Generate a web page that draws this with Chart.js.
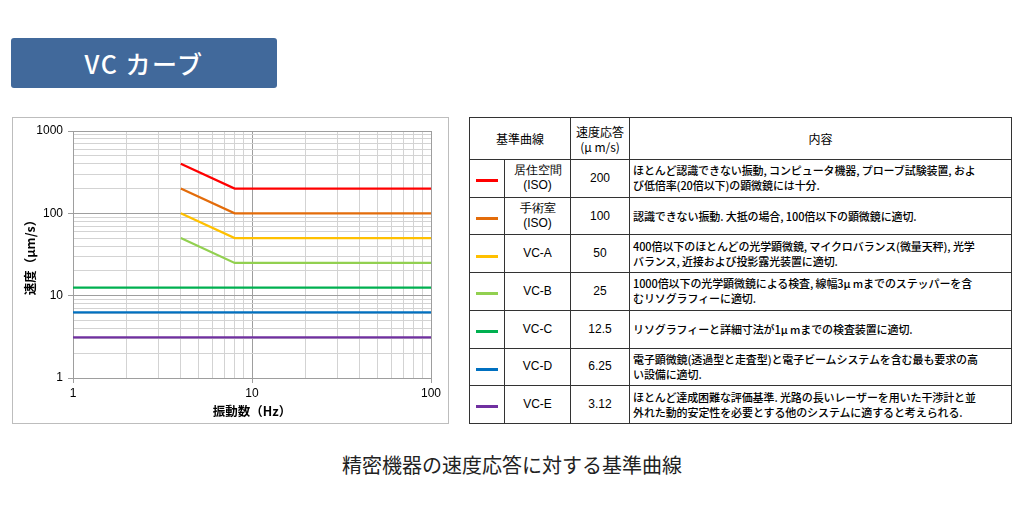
<!DOCTYPE html>
<html>
<head>
<meta charset="utf-8">
<script src="https://cdn.jsdelivr.net/npm/chart.js@4.4.0/dist/chart.umd.min.js"></script>
<style>
  html, body { margin: 0; padding: 0; background: #fff; }
  body { width: 1024px; height: 512px; position: relative; overflow: hidden;
         font-family: "Noto Sans CJK JP", "Liberation Sans", sans-serif; }
  #title { position: absolute; left: 11px; top: 38px; width: 266px; height: 50px;
           background: #41699b; border-radius: 3px; color: #fff; font-size: 25px;
           font-weight: 500; line-height: 50px; text-align: center; letter-spacing: 1.5px; }
  #chartBox { position: absolute; left: 12px; top: 117px; width: 435px; height: 305px;
              border: 1px solid #bdbdbd; }
  #vc { display: block; }
  #tbl { position: absolute; left: 469px; top: 117px; width: 543px; height: 307px;
         border-collapse: collapse; table-layout: fixed; font-size: 12px; color: #000; }
  #tbl td { border: 1px solid #333; padding: 0; text-align: center; vertical-align: middle;
            line-height: 15px; }
  #tbl td.txt { text-align: left; padding-left: 3px; white-space: nowrap; letter-spacing: -0.1px;
                font-size: 11px; font-weight: 500; }
  #tbl td.num { font-family: "Liberation Sans", sans-serif; font-size: 12px; }
  #tbl .sw { display: inline-block; width: 22px; height: 3px; vertical-align: middle; }
  #caption { position: absolute; left: 0; width: 1024px; top: 450px; text-align: center;
             font-size: 20px; color: #222; font-weight: 400; }
</style>
</head>
<body>
<div id="title">VC カーブ</div>
<div id="chartBox"><canvas id="vc" width="435" height="305"></canvas></div>
<table id="tbl"></table>
<div id="caption">精密機器の速度応答に対する基準曲線</div>
<script>
// 基準曲線のデータ
const curveNames = ['居住空間<br>(ISO)', '手術室<br>(ISO)', 'VC-A', 'VC-B', 'VC-C', 'VC-D', 'VC-E'];
const curveValues = ['200', '100', '50', '25', '12.5', '6.25', '3.12'];
const curveFreqs = [[4, 8, 100], [4, 8, 100], [4, 8, 100], [4, 8, 100], [1, 100], [1, 100], [1, 100]];
const curveSpeeds = [[400, 200, 200], [200, 100, 100], [100, 50, 50], [50, 25, 25], [12.5, 12.5], [6.25, 6.25], [3.12, 3.12]];
const curveNotes = [
  'ほとんど認識できない振動, コンピュータ機器, プローブ試験装置, およ<br>び低倍率(20倍以下)の顕微鏡には十分.',
  '認識できない振動. 大抵の場合, 100倍以下の顕微鏡に適切.',
  '400倍以下のほとんどの光学顕微鏡, マイクロバランス(微量天秤), 光学<br>バランス, 近接および投影露光装置に適切.',
  '1000倍以下の光学顕微鏡による検査, 線幅3μ mまでのステッパーを含<br>むリソグラフィーに適切.',
  'リソグラフィーと詳細寸法が1μ mまでの検査装置に適切.',
  '電子顕微鏡(透過型と走査型)と電子ビームシステムを含む最も要求の高<br>い設備に適切.',
  'ほとんど達成困難な評価基準. 光路の長いレーザーを用いた干渉計と並<br>外れた動的安定性を必要とする他のシステムに適すると考えられる.'
];
const xTickLabels = [1, 10, 100];
const yTickLabels = [1, 10, 100, 1000];

const lineColors = ['#ff0000', '#e36c0a', '#ffc000', '#92d050', '#00b050', '#0070c0', '#7030a0'];

// 表
var html = '<tr style="height:42px"><td colspan="2">基準曲線</td>' +
  '<td>速度応答<br>(μ m/s)</td><td>内容</td></tr>';
for (var i = 0; i < curveNames.length; i++) {
  html += '<tr style="height:37.7px"><td><span class="sw" style="background:' + lineColors[i] + '"></span></td>' +
    '<td class="num">' + curveNames[i] + '</td><td class="num">' + curveValues[i] + '</td>' +
    '<td class="txt">' + curveNotes[i] + '</td></tr>';
}
document.getElementById('tbl').innerHTML = '<colgroup><col style="width:35px"><col style="width:66px"><col style="width:59px"><col></colgroup>' + html;

// 対数目盛（1,2,...,9,10,20,...）
function logTicks(min, max) {
  var out = [];
  for (var d = min; d < max; d *= 10) {
    for (var k = 1; k < 10; k++) out.push(k * d);
  }
  out.push(max);
  return out;
}
function isMajor(v) {
  return Math.abs(Math.log10(v) - Math.round(Math.log10(v))) < 1e-9;
}

var datasets = curveFreqs.map(function (f, i) {
  return {
    data: f.map(function (x, j) { return { x: x, y: curveSpeeds[i][j] }; }),
    borderColor: lineColors[i],
    borderWidth: 2.2,
    pointRadius: 0,
    tension: 0,
    fill: false
  };
});

var tickFont = { family: 'Liberation Sans', size: 12 };
var titleFont = { family: 'Noto Sans CJK JP', size: 12.5, weight: 'bold' };

var ctx = document.getElementById('vc').getContext('2d');
new Chart(ctx, {
  type: 'line',
  data: { datasets: datasets },
  options: {
    responsive: false,
    animation: false,
    layout: { padding: { top: 13, right: 17, left: 0, bottom: 0 } },
    plugins: { legend: { display: false }, tooltip: { enabled: false } },
    scales: {
      x: {
        type: 'logarithmic', min: 1, max: 100,
        afterBuildTicks: function (s) { s.ticks = logTicks(1, 100).map(function (v) { return { value: v }; }); },
        afterFit: function (s) { s.height = 45; },
        ticks: {
          autoSkip: false, maxRotation: 0, color: '#000', font: tickFont, padding: 3,
          callback: function (v) { return xTickLabels.indexOf(v) >= 0 ? String(v) : ''; }
        },
        grid: {
          color: function (c) { return isMajor(c.tick.value) ? '#9e9e9e' : '#d3d3d3'; },
          tickColor: function (c) { return isMajor(c.tick.value) ? '#9e9e9e' : 'rgba(0,0,0,0)'; },
          tickLength: 5
        },
        border: { color: '#9e9e9e' },
        title: { display: true, text: '振動数（Hz）', font: titleFont, color: '#000', padding: { top: 4 } }
      },
      y: {
        type: 'logarithmic', min: 1, max: 1000,
        afterBuildTicks: function (s) { s.ticks = logTicks(1, 1000).map(function (v) { return { value: v }; }); },
        afterFit: function (s) { s.width = 60; },
        ticks: {
          autoSkip: false, color: '#000', font: tickFont, padding: 5,
          callback: function (v) { return yTickLabels.indexOf(v) >= 0 ? String(v) : ''; }
        },
        grid: {
          color: function (c) { return isMajor(c.tick.value) ? '#9e9e9e' : '#d3d3d3'; },
          tickColor: function (c) { return isMajor(c.tick.value) ? '#9e9e9e' : 'rgba(0,0,0,0)'; },
          tickLength: 5
        },
        border: { color: '#9e9e9e' },
        title: { display: true, text: '速度（μm/s）', font: titleFont, color: '#000', padding: { top: 10, bottom: 0 } }
      }
    }
  }
});
</script>
</body>
</html>
